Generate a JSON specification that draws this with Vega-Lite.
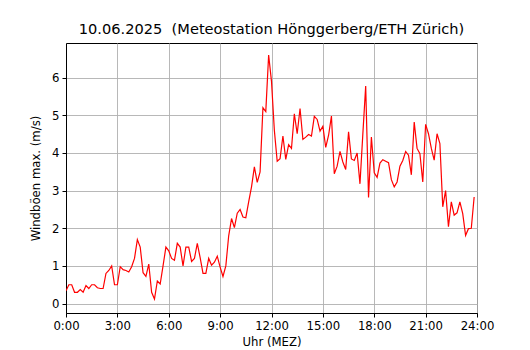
{
  "$schema": "https://vega.github.io/schema/vega-lite/v6.json",
  "autosize": "none",
  "width": 411,
  "height": 270,
  "padding": {"left": 66, "top": 43, "right": 53, "bottom": 37},
  "background": "white",
  "title": {
    "text": "10.06.2025 \u00a0(Meteostation Hönggerberg/ETH Zürich)",
    "font": "DejaVu Sans",
    "fontSize": 14.6,
    "fontWeight": "normal",
    "color": "black",
    "anchor": "middle",
    "offset": 6
  },
  "config": {
    "font": "DejaVu Sans",
    "view": {"stroke": "black", "strokeWidth": 1},
    "axis": {
      "labelFont": "DejaVu Sans",
      "labelFontSize": 11.7,
      "labelColor": "black",
      "titleFont": "DejaVu Sans",
      "titleFontSize": 11.7,
      "titleFontWeight": "normal",
      "titleColor": "black",
      "domainColor": "black",
      "domainWidth": 1,
      "tickColor": "black",
      "tickSize": 4,
      "tickWidth": 1,
      "gridColor": "#b0b0b0",
      "gridWidth": 0.9,
      "gridOpacity": 1,
      "labelPadding": 3
    }
  },
  "data": {
    "values": [
      {"min": 0, "v": 0.34}, {"min": 10, "v": 0.5}, {"min": 20, "v": 0.5}, {"min": 30, "v": 0.3}, {"min": 40, "v": 0.3}, {"min": 50, "v": 0.37},
      {"min": 60, "v": 0.3}, {"min": 70, "v": 0.48}, {"min": 80, "v": 0.4}, {"min": 90, "v": 0.5}, {"min": 100, "v": 0.5}, {"min": 110, "v": 0.42},
      {"min": 120, "v": 0.4}, {"min": 130, "v": 0.4}, {"min": 140, "v": 0.8}, {"min": 150, "v": 0.88}, {"min": 160, "v": 1.0}, {"min": 170, "v": 0.5},
      {"min": 180, "v": 0.5}, {"min": 190, "v": 0.98}, {"min": 200, "v": 0.9}, {"min": 210, "v": 0.88}, {"min": 220, "v": 0.84}, {"min": 230, "v": 0.98},
      {"min": 240, "v": 1.2}, {"min": 250, "v": 1.7}, {"min": 260, "v": 1.5}, {"min": 270, "v": 0.82}, {"min": 280, "v": 0.72}, {"min": 290, "v": 1.05},
      {"min": 300, "v": 0.3}, {"min": 310, "v": 0.12}, {"min": 320, "v": 0.6}, {"min": 330, "v": 0.52}, {"min": 340, "v": 1.0}, {"min": 350, "v": 1.5},
      {"min": 360, "v": 1.4}, {"min": 370, "v": 1.2}, {"min": 380, "v": 1.15}, {"min": 390, "v": 1.6}, {"min": 400, "v": 1.5}, {"min": 410, "v": 1.0},
      {"min": 420, "v": 1.5}, {"min": 430, "v": 1.5}, {"min": 440, "v": 1.12}, {"min": 450, "v": 1.2}, {"min": 460, "v": 1.6}, {"min": 470, "v": 1.22},
      {"min": 480, "v": 0.8}, {"min": 490, "v": 0.8}, {"min": 500, "v": 1.2}, {"min": 510, "v": 1.02}, {"min": 520, "v": 1.1}, {"min": 530, "v": 1.26},
      {"min": 540, "v": 0.97}, {"min": 550, "v": 0.72}, {"min": 560, "v": 1.0}, {"min": 570, "v": 1.8}, {"min": 580, "v": 2.26}, {"min": 590, "v": 2.02},
      {"min": 600, "v": 2.4}, {"min": 610, "v": 2.5}, {"min": 620, "v": 2.3}, {"min": 630, "v": 2.28}, {"min": 640, "v": 2.7}, {"min": 650, "v": 3.1},
      {"min": 660, "v": 3.63}, {"min": 670, "v": 3.22}, {"min": 680, "v": 3.5}, {"min": 690, "v": 5.2}, {"min": 700, "v": 5.1}, {"min": 710, "v": 6.6},
      {"min": 720, "v": 5.9}, {"min": 730, "v": 4.6}, {"min": 740, "v": 3.78}, {"min": 750, "v": 3.85}, {"min": 760, "v": 4.45}, {"min": 770, "v": 3.83},
      {"min": 780, "v": 4.22}, {"min": 790, "v": 4.12}, {"min": 800, "v": 5.04}, {"min": 810, "v": 4.51}, {"min": 820, "v": 5.18}, {"min": 830, "v": 4.36},
      {"min": 840, "v": 4.42}, {"min": 850, "v": 4.49}, {"min": 860, "v": 4.45}, {"min": 870, "v": 4.97}, {"min": 880, "v": 4.89}, {"min": 890, "v": 4.58},
      {"min": 900, "v": 4.71}, {"min": 910, "v": 4.15}, {"min": 920, "v": 4.47}, {"min": 930, "v": 4.98}, {"min": 940, "v": 3.45}, {"min": 950, "v": 3.65},
      {"min": 960, "v": 4.04}, {"min": 970, "v": 3.76}, {"min": 980, "v": 3.56}, {"min": 990, "v": 4.56}, {"min": 1000, "v": 3.84}, {"min": 1010, "v": 3.8},
      {"min": 1020, "v": 4.0}, {"min": 1030, "v": 3.18}, {"min": 1040, "v": 4.5}, {"min": 1050, "v": 5.78}, {"min": 1060, "v": 2.82}, {"min": 1070, "v": 4.42},
      {"min": 1080, "v": 3.47}, {"min": 1090, "v": 3.35}, {"min": 1100, "v": 3.73}, {"min": 1110, "v": 3.82}, {"min": 1120, "v": 3.78}, {"min": 1130, "v": 3.74},
      {"min": 1140, "v": 3.29}, {"min": 1150, "v": 3.1}, {"min": 1160, "v": 3.23}, {"min": 1170, "v": 3.65}, {"min": 1180, "v": 3.8}, {"min": 1190, "v": 4.04},
      {"min": 1200, "v": 3.94}, {"min": 1210, "v": 3.42}, {"min": 1220, "v": 4.82}, {"min": 1230, "v": 4.12}, {"min": 1240, "v": 3.98}, {"min": 1250, "v": 3.23},
      {"min": 1260, "v": 4.76}, {"min": 1270, "v": 4.51}, {"min": 1280, "v": 4.12}, {"min": 1290, "v": 3.81}, {"min": 1300, "v": 4.51}, {"min": 1310, "v": 4.25},
      {"min": 1320, "v": 2.57}, {"min": 1330, "v": 3.0}, {"min": 1340, "v": 2.04}, {"min": 1350, "v": 2.7}, {"min": 1360, "v": 2.35}, {"min": 1370, "v": 2.41},
      {"min": 1380, "v": 2.7}, {"min": 1390, "v": 2.39}, {"min": 1400, "v": 1.81}, {"min": 1410, "v": 1.99}, {"min": 1420, "v": 2.0}, {"min": 1430, "v": 2.83}
    ]
  },
  "mark": {"type": "line", "color": "#ff0000", "strokeWidth": 1.2, "clip": true},
  "encoding": {
    "x": {
      "field": "min",
      "type": "quantitative",
      "scale": {"domain": [0, 1440], "nice": false, "zero": false},
      "axis": {
        "title": "Uhr (MEZ)",
        "values": [0, 180, 360, 540, 720, 900, 1080, 1260, 1440],
        "labelExpr": "floor(datum.value / 60) + ':00'",
        "labelFlush": false,
        "titlePadding": 5,
        "grid": true
      }
    },
    "y": {
      "field": "v",
      "type": "quantitative",
      "scale": {"domain": [-0.25, 6.92], "nice": false, "zero": false},
      "axis": {
        "title": "Windböen max. (m/s)",
        "values": [0, 1, 2, 3, 4, 5, 6],
        "titlePadding": 10,
        "grid": true
      }
    }
  }
}
